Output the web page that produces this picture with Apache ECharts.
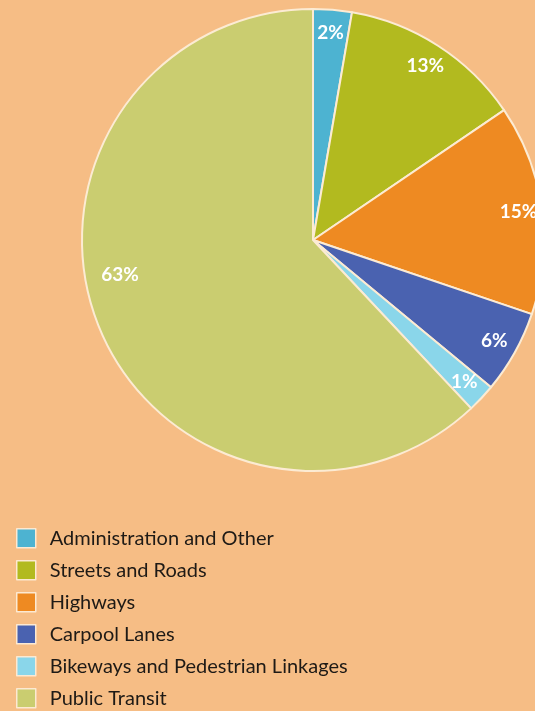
<!DOCTYPE html>
<html>
<head>
<meta charset="utf-8">
<script src="https://cdn.jsdelivr.net/npm/echarts@6/dist/echarts.min.js"></script>
<style>
html,body{margin:0;padding:0;background:#F6BD85;}
#c{width:535px;height:711px;}
</style>
</head>
<body>
<div id="c"></div>
<script>
var categories = ["Administration and Other","Streets and Roads","Highways","Carpool Lanes","Bikeways and Pedestrian Linkages","Public Transit"];
var values = [2.7, 12.8, 14.7, 5.8, 2.0, 62.0];
var labels = ["2%","13%","15%","6%","1%","63%"];
var colors = ["#4DB3D1","#B2BA1F","#EE8A22","#4A62B0","#8AD6EA","#CACD70"];

var chart = echarts.init(document.getElementById('c'), null, {renderer:'canvas'});
var pieData = categories.map(function(n,i){return {name:n, value:values[i], itemStyle:{color:colors[i]}};});
var labelData = categories.map(function(n,i){return {name:n, value:values[i], label:{formatter:labels[i]}};});
chart.setOption({
  backgroundColor:'#F6BD85',
  animation:false,
  legend:{
    orient:'vertical', left:16, top:528, height:200, padding:0,
    itemWidth:19, itemHeight:19, itemGap:11.5,
    icon:'rect',
    itemStyle:{borderColor:'#FCE9D2', borderWidth:1.5},
    textStyle:{fontFamily:'Lato', fontSize:20, lineHeight:19, color:'#1E1A16', padding:[0,0,0,9]},
    data:categories
  },
  series:[
    {
      type:'pie', center:[313,240], radius:[0,231], startAngle:90, clockwise:true,
      silent:true,
      itemStyle:{borderColor:'#FCEBD3', borderWidth:2},
      label:{show:false}, labelLine:{show:false},
      data:pieData
    },
    {
      type:'pie', center:[313,240], radius:[178,231], startAngle:90, clockwise:true,
      silent:true, legendHoverLink:false,
      itemStyle:{color:'rgba(0,0,0,0)', borderWidth:0},
      label:{show:true, position:'inside', color:'#FFFFFF', fontFamily:'Lato', fontWeight:'bold', fontSize:19},
      labelLine:{show:false},
      labelLayout:function(p){ return p.dataIndex===5 ? {dy:-42} : {}; },
      data:labelData
    }
  ]
});
</script>
</body>
</html>
